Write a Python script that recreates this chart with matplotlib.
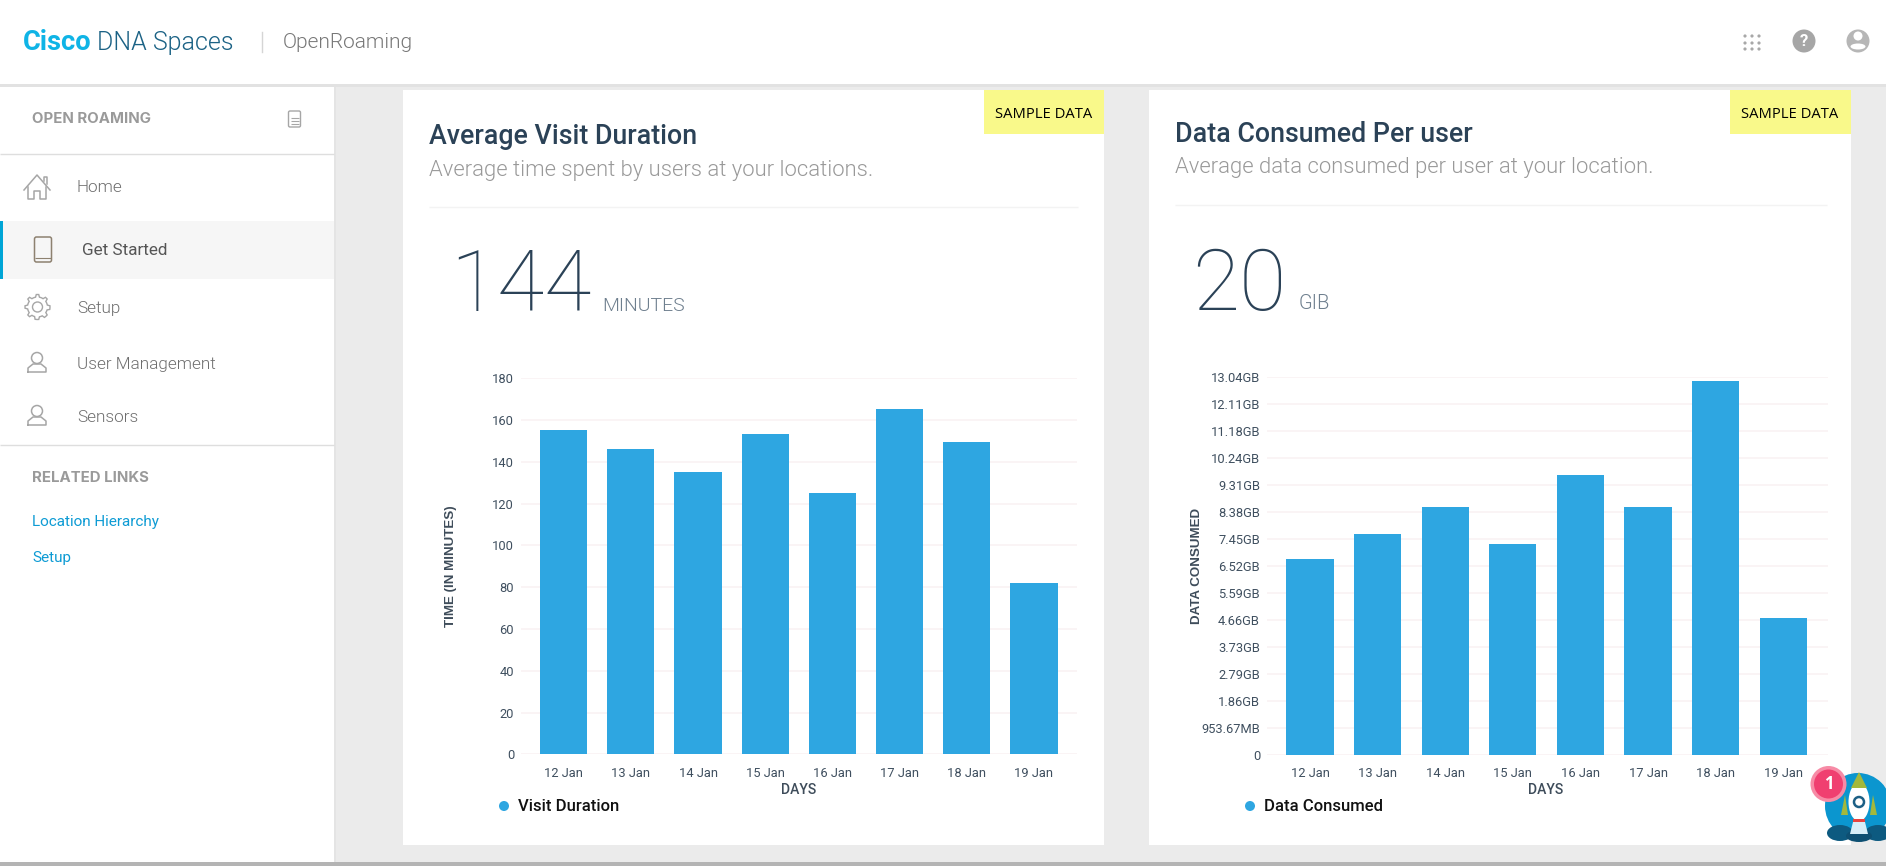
#!/usr/bin/env python3
import numpy as np
import matplotlib
matplotlib.use("Agg")
import matplotlib.pyplot as plt
from matplotlib.patches import Circle, Polygon, Rectangle, FancyBboxPatch, Ellipse

W, H = 1886, 866

DAYS = ["12 Jan", "13 Jan", "14 Jan", "15 Jan", "16 Jan", "17 Jan", "18 Jan", "19 Jan"]
VISIT_MINUTES = [155.4, 146.2, 135.2, 153.3, 125.1, 165.2, 149.4, 82.2]
VISIT_TICKS = [0, 20, 40, 60, 80, 100, 120, 140, 160, 180]
DATA_GB = [6.76, 7.60, 8.55, 7.26, 9.66, 8.54, 12.90, 4.70]
DATA_TICKS = [0, 0.93, 1.86, 2.79, 3.73, 4.66, 5.59, 6.52, 7.45, 8.38, 9.31, 10.24, 11.18, 12.11, 13.04]
DATA_TICK_LABELS = ["0", "953.67MB", "1.86GB", "2.79GB", "3.73GB", "4.66GB", "5.59GB", "6.52GB",
                    "7.45GB", "8.38GB", "9.31GB", "10.24GB", "11.18GB", "12.11GB", "13.04GB"]

BAR = "#2ea6e1"
GRID = "#f9f2f4"
NAVY = "#2b4257"
BG = "#ebebeb"
SANS = "Roboto"

plt.rcParams["font.family"] = [SANS, "DejaVu Sans"]

fig = plt.figure(figsize=(W / 100, H / 100), dpi=100, facecolor=BG)
ui = fig.add_axes([0, 0, 1, 1])
ui.set_xlim(0, W)
ui.set_ylim(H, 0)
ui.axis("off")


def rect(x0, y0, x1, y1, color, z=1):
    ui.add_patch(Rectangle((x0, y0), x1 - x0, y1 - y0, fc=color, ec="none", zorder=z))


def hline(y, x0, x1, color="#dedede", lw=1.0, z=2):
    ui.plot([x0, x1], [y, y], color=color, lw=lw, zorder=z, solid_capstyle="butt")


def label(x, y, s, size, color, weight="normal", ha="left", va="center", family=SANS, z=5):
    if va == "center" and family != "Open Sans":
        y += 1.8
    return ui.text(x, y, s, fontsize=size, color=color, fontweight=weight, ha=ha, va=va,
                   family=[family, "DejaVu Sans"], zorder=z)


def person(cx, cy):
    c = "#a6a6a6"
    ui.add_patch(Circle((cx, cy - 5), 5.5, fc="none", ec=c, lw=1.1, zorder=3))
    ui.plot([cx - 9, cx - 9, cx - 4, cx + 4, cx + 9, cx + 9, cx - 9],
            [cy + 9, cy + 5, cy + 1, cy + 1, cy + 5, cy + 9, cy + 9], color=c, lw=1.1, zorder=3)


# page frame
rect(0, 862, W, H, "#b4b4b4")
rect(0, 84, 334, 862, "white")
rect(334, 84, 336, 862, "#e4e4e4")
rect(0, 0, W, 84, "white", z=3)
rect(0, 84, W, 87, "#e2e2e2", z=2)

# header
label(23, 41, "Cisco", 19.6, "#0fb4e6", weight="bold")
label(97, 41, "DNA Spaces", 18, "#1b6285", weight="300")
ui.plot([262, 262], [32, 52], color="#d5d5d5", lw=1, zorder=4)
label(283, 41, "OpenRoaming", 15, "#777777", weight="300")
for gx in (1745, 1752, 1759):
    for gy in (36, 43, 49):
        ui.add_patch(Circle((gx, gy), 1.6, fc="#a8a8a8", ec="none", zorder=4))
ui.add_patch(Circle((1804, 41), 11.5, fc="#a6a6a6", ec="none", zorder=4))
label(1804, 39.5, "?", 12, "white", weight="bold", ha="center")
ui.add_patch(Circle((1858, 41), 11.5, fc="#b6b6b6", ec="none", zorder=4))
ui.add_patch(Circle((1858, 36), 4.5, fc="white", ec="none", zorder=5))
ui.add_patch(Ellipse((1858, 46.5), 15, 6, fc="white", ec="none", zorder=5))

# sidebar
label(32, 117, "OPEN ROAMING", 10.8, "#9a9a9a", weight="bold", family="Inter")
ui.add_patch(FancyBboxPatch((288.5, 111), 12, 16, boxstyle="round,pad=0,rounding_size=1.5",
                            fc="none", ec="#a6a6a6", lw=1, zorder=3))
for dy in (118, 121, 124):
    hline(dy, 291, 298.5, color="#a6a6a6", lw=0.8, z=3)
hline(153.5, 0, 334)
hline(444.5, 0, 334)
rect(0, 221, 334, 279, "#f6f6f6")
rect(0, 221, 3, 279, "#00a5d6", z=2)

label(77, 186, "Home", 12.3, "#6e6e6e", weight="300")
label(82, 249, "Get Started", 12.3, "#555555")
label(77, 307, "Setup", 12.3, "#6e6e6e", weight="300")
label(77, 363, "User Management", 12.3, "#6e6e6e", weight="300")
label(77, 416, "Sensors", 12.3, "#6e6e6e", weight="300")
label(32, 476, "RELATED LINKS", 10.8, "#9a9a9a", weight="bold", family="Inter")
label(32, 520, "Location Hierarchy", 11, "#0d9bd4")
label(32, 556, "Setup", 11, "#0d9bd4")

# sidebar icons
ui.plot([24, 37, 50], [190, 175, 190], color="#a6a6a6", lw=1.1, zorder=3)
ui.plot([44, 44, 47, 47], [181, 177, 177, 184], color="#a6a6a6", lw=1.1, zorder=3)
ui.plot([28, 28, 34, 34, 40, 40, 46, 46], [187, 199, 199, 191, 191, 199, 199, 187],
        color="#a6a6a6", lw=1.1, zorder=3)
ui.add_patch(FancyBboxPatch((34.5, 237), 17, 25, boxstyle="round,pad=0,rounding_size=2",
                            fc="none", ec="#8d8170", lw=1.1, zorder=3))
hline(258, 35, 51, color="#8d8170", lw=0.8, z=3)
ang = np.linspace(0, 2 * np.pi, 65)[:-1]
gear_r = np.where(np.cos(8 * ang) > 0, 12.5, 10)
ui.add_patch(Polygon(np.c_[37.5 + gear_r * np.cos(ang), 307 + gear_r * np.sin(ang)],
                     closed=True, fc="none", ec="#a6a6a6", lw=1.0, zorder=3))
ui.add_patch(Circle((37.5, 307), 5, fc="none", ec="#a6a6a6", lw=1.0, zorder=3))
person(37, 363)
person(37, 416)

# cards
rect(403, 90, 1104, 845, "white")
rect(1149, 90, 1851, 845, "white")
rect(984, 90, 1104, 134, "#f9f98a", z=2)
rect(1730, 90, 1851, 134, "#f9f98a", z=2)
label(1044, 114, "SAMPLE DATA", 10.6, "black", ha="center", family="Open Sans")
label(1790, 114, "SAMPLE DATA", 10.6, "black", ha="center", family="Open Sans")

label(429, 135, "Average Visit Duration", 19.3, NAVY, weight="500")
label(429, 169, "Average time spent by users at your locations.", 15.8, "#999999", weight="300")
hline(207, 429, 1078, color="#f3f3f3")
label(450, 311, "144", 62, NAVY, weight="200", va="baseline")
label(602, 311, "MINUTES", 14, "#6e7f8e", weight="300", va="baseline")

label(1175, 133, "Data Consumed Per user", 19.3, NAVY, weight="500")
label(1175, 166, "Average data consumed per user at your location.", 15.8, "#999999", weight="300")
hline(205, 1175, 1827, color="#f3f3f3")
label(1192, 310, "20", 62, NAVY, weight="200", va="baseline")
label(1299, 309, "GIB", 14.5, "#6e7f8e", weight="300", va="baseline")


def bar_chart(box, values, yticks, yticklabels, xlim, ylabel, ylabel_x, xlabel_x, legend, legend_x):
    x0, y0, x1, y1 = box
    ax = fig.add_axes([x0 / W, 1 - y1 / H, (x1 - x0) / W, (y1 - y0) / H])
    ax.patch.set_alpha(0)
    ax.bar(range(len(DAYS)), values, width=0.7, color=BAR, zorder=3)
    ax.set_xlim(*xlim)
    ax.set_ylim(yticks[0], yticks[-1])
    ax.set_xticks(range(len(DAYS)))
    ax.set_xticklabels(DAYS)
    ax.set_yticks(yticks)
    ax.set_yticklabels(yticklabels)
    ax.tick_params(length=0, labelsize=9.3, labelcolor="#3f4f5f", pad=5)
    ax.tick_params(axis="x", pad=9)
    ax.grid(axis="y", color=GRID, lw=1.2, zorder=0)
    for side in ax.spines.values():
        side.set_visible(False)
    label(ylabel_x, 564, ylabel, 9.6, "#3e4c5a", weight="bold", ha="center",
          family="Liberation Sans").set_rotation(90)
    label(xlabel_x, 788.5, "DAYS", 10, "#3e4c5a", weight="500", ha="center")
    ui.add_patch(Circle((legend_x, 806), 5, fc=BAR, ec="none", zorder=4))
    label(legend_x + 14.5, 805, legend, 12, "#111111", weight="500")
    return ax


bar_chart((521, 378.3, 1077, 754.3), VISIT_MINUTES, VISIT_TICKS, [str(t) for t in VISIT_TICKS],
          (-0.634, 7.64), "TIME (IN MINUTES)", 451, 799, "Visit Duration", 504)
bar_chart((1267, 376.7, 1827.5, 754.7), DATA_GB, DATA_TICKS, DATA_TICK_LABELS,
          (-0.636, 7.655), "DATA CONSUMED", 1196.5, 1546, "Data Consumed", 1250)

# chat widget
top = fig.add_axes([0, 0, 1, 1])
top.set_xlim(0, W)
top.set_ylim(H, 0)
top.axis("off")
top.add_patch(Circle((1858, 806), 33, fc="#0b96cf", ec="none"))
top.add_patch(Ellipse((1840, 833), 26, 16, fc="#0d5a80", ec="none"))
top.add_patch(Ellipse((1878, 833), 26, 16, fc="#0d5a80", ec="none"))
top.add_patch(Ellipse((1859, 836), 26, 12, fc="#0d4f72", ec="none"))
top.add_patch(Polygon([(1848, 815), (1841, 815), (1845, 795)], fc="#a3b83c", ec="none"))
top.add_patch(Polygon([(1870, 815), (1877, 815), (1873, 795)], fc="#a3b83c", ec="none"))
top.add_patch(Ellipse((1859, 802), 21, 38, fc="white", ec="none"))
top.add_patch(Polygon([(1851, 788), (1859, 772), (1867, 788)], fc="#a3b83c", ec="none"))
top.add_patch(Rectangle((1853, 819), 12, 3, fc="#e8443f", ec="none"))
top.add_patch(Polygon([(1853, 822), (1865, 822), (1868, 834), (1850, 834)], fc="#d7eef8", ec="none"))
top.add_patch(Circle((1859, 802), 5, fc="white", ec="#1c5f85", lw=1.8))
top.add_patch(Circle((1828.5, 784), 18, fc="#f78ba6", ec="none"))
top.add_patch(Circle((1828.5, 784), 14.5, fc="#f03f70", ec="none"))
top.text(1828.5, 784, "1", fontsize=12, color="white", fontweight="bold", ha="center", va="center",
         family=["Open Sans", "DejaVu Sans"])

fig.savefig("out.png", dpi=100, facecolor=BG)
